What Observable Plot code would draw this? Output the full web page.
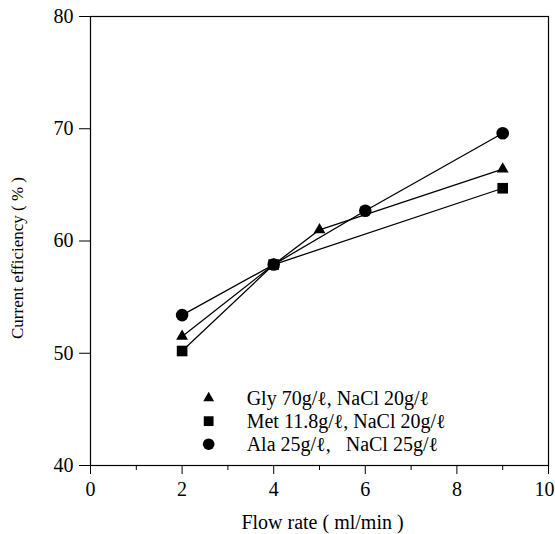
<!DOCTYPE html>
<html><head><meta charset="utf-8">
<script src="https://cdn.jsdelivr.net/npm/d3@7"></script>
<script src="https://cdn.jsdelivr.net/npm/@observablehq/plot@0.6"></script>
<style>
body{margin:0;background:#fff;}
svg{font-family:"Liberation Serif","Times New Roman",serif;}
</style>
</head><body><div id="chart"></div>
<script>
// ---- data ----
const xTicks = [0, 2, 4, 6, 8, 10];
const xMinorTicks = [1, 3, 5, 7, 9];
const yTicks = [40, 50, 60, 70, 80];

const seriesNames = ["Gly", "Met", "Ala"];
const glyFlow = [2, 4, 5, 9];
const glyEff = [51.5, 57.9, 61.0, 66.4];
const metFlow = [2, 4, 9];
const metEff = [50.2, 57.9, 64.7];
const alaFlow = [2, 4, 6, 9];
const alaEff = [53.4, 57.9, 62.7, 69.6];

const legendLabels = [
  "Gly 70g/\u2113, NaCl 20g/\u2113",
  "Met 11.8g/\u2113, NaCl 20g/\u2113",
  "Ala 25g/\u2113,\u00a0\u00a0 NaCl 25g/\u2113"
];
const xLabel = "Flow rate ( ml/min )";
const yLabel = "Current efficiency ( % )";

// ---- styles ----
const symbols = ["triangle", "square", "circle"];
const radii = [4.4, 6, 6.3];

const flows = [glyFlow, metFlow, alaFlow];
const effs = [glyEff, metEff, alaEff];
const rows = seriesNames.flatMap((s, i) => flows[i].map((f, j) => ({series: s, flow: f, eff: effs[i][j]})));

// legend placement (data units inside the frame)
const legendSymX = 2.58, legendTextX = 3.41, legendTop = 46.0, legendStep = 2.05;
const legendRows = seriesNames.map((s, i) => ({series: s, label: legendLabels[i], y: legendTop - i * legendStep}));

const lastX = xTicks[xTicks.length - 1];
const marks = [
  Plot.frame({stroke: "black", strokeWidth: 1.2}),
  Plot.axisX(xTicks, {tickSize: 9, tickPadding: 7, fontSize: 20, label: null, tickFormat: d => d === lastX ? "" : String(d)}),
  Plot.axisX([lastX], {tickSize: 0, tickPadding: 16, fontSize: 20, label: null, dx: -4}),
  Plot.axisX(xMinorTicks, {tickSize: 5, tickFormat: () => "", label: null}),
  Plot.axisY(yTicks, {tickSize: 11, tickPadding: 6, fontSize: 20, label: null}),
  Plot.line(rows, {x: "flow", y: "eff", z: "series", stroke: "black", strokeWidth: 1.3})
];
seriesNames.forEach((s, i) => {
  marks.push(Plot.dot(rows.filter(d => d.series === s), {x: "flow", y: "eff", symbol: () => symbols[i], r: radii[i], fill: "black", stroke: "none"}));
  marks.push(Plot.dot([legendRows[i]], {x: () => legendSymX, y: "y", symbol: () => symbols[i], r: radii[i] * 0.92, fill: "black", stroke: "none"}));
});
marks.push(Plot.text(legendRows, {x: () => legendTextX, y: "y", text: "label", textAnchor: "start", fontSize: 20, ariaLabel: "legendtext"}));
marks.push(Plot.text([xLabel], {frameAnchor: "bottom", textAnchor: "middle", lineAnchor: "middle", dx: 3, dy: 57, fontSize: 20, ariaLabel: "xlabel"}));
marks.push(Plot.text([yLabel], {frameAnchor: "left", textAnchor: "middle", lineAnchor: "middle", rotate: -90, dx: -73, dy: 17, fontSize: 17, ariaLabel: "ylabel"}));

const chart = Plot.plot({
  width: 555, height: 534,
  marginLeft: 90, marginRight: 7, marginTop: 16, marginBottom: 69,
  style: {fontFamily: '"Liberation Serif","Times New Roman",serif', color: "black", background: "white"},
  x: {domain: [0, 10]},
  y: {domain: [40, 80]},
  symbol: {type: "identity"},
  marks
});
d3.select(chart).selectAll('g[aria-label="legendtext"] text').style("letter-spacing", "2.5px");
d3.select(chart).selectAll('g[aria-label="xlabel"] text').style("letter-spacing", "1px");
d3.select(chart).selectAll('g[aria-label="ylabel"] text').style("letter-spacing", "-0.3px");
document.getElementById("chart").appendChild(chart);
</script>
</body></html>
